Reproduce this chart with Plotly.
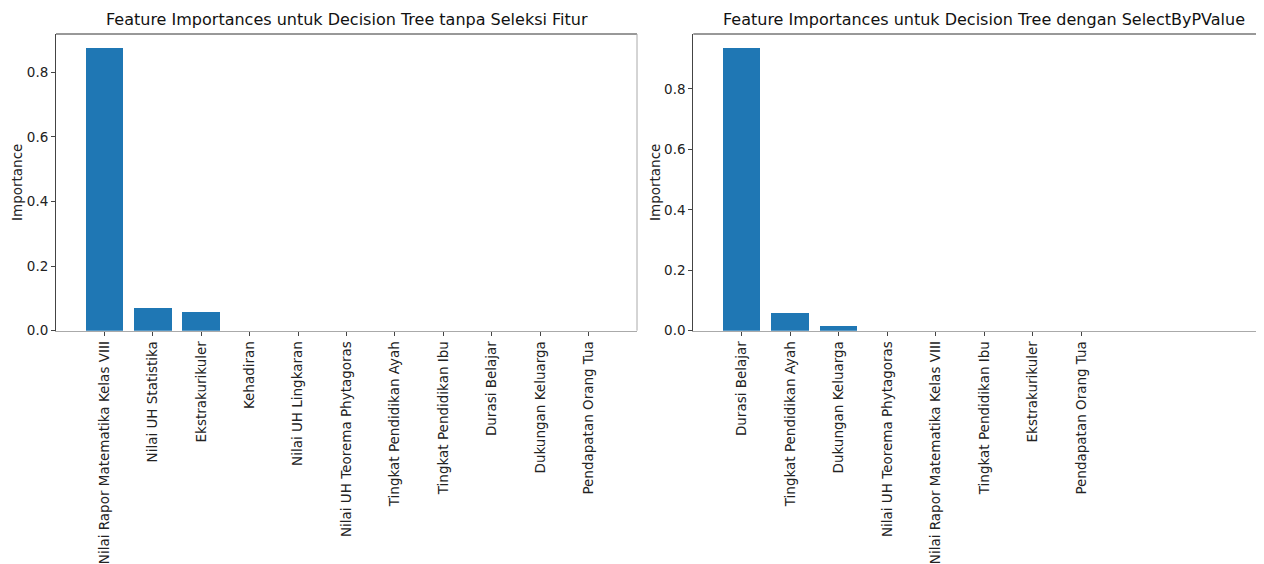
import plotly.graph_objects as go

# page body has an 8px default margin, so the figure is drawn 8px smaller and offset
OFF = 8
W, H = 1264 - OFF, 564 - OFF

# ---- data ----
left_features = [
    "Nilai Rapor Matematika Kelas VIII",
    "Nilai UH Statistika",
    "Ekstrakurikuler",
    "Kehadiran",
    "Nilai UH Lingkaran",
    "Nilai UH Teorema Phytagoras",
    "Tingkat Pendidikan Ayah",
    "Tingkat Pendidikan Ibu",
    "Durasi Belajar",
    "Dukungan Keluarga",
    "Pendapatan Orang Tua",
]
left_importance = [0.874, 0.069, 0.057, 0.0, 0.0, 0.0, 0.0, 0.0, 0.0, 0.0, 0.0]

right_features = [
    "Durasi Belajar",
    "Tingkat Pendidikan Ayah",
    "Dukungan Keluarga",
    "Nilai UH Teorema Phytagoras",
    "Nilai Rapor Matematika Kelas VIII",
    "Tingkat Pendidikan Ibu",
    "Ekstrakurikuler",
    "Pendapatan Orang Tua",
]
right_importance = [0.935, 0.058, 0.014, 0.0, 0.0, 0.0, 0.0, 0.0]

left_title = "Feature Importances untuk Decision Tree tanpa Seleksi Fitur"
right_title = "Feature Importances untuk Decision Tree dengan SelectByPValue"
y_label = "Importance"
y_ticks = [0.0, 0.2, 0.4, 0.6, 0.8]

# ---- layout geometry (pixels, in screenshot coordinates) ----
FONT = "DejaVu Sans"
BAR = "#1f77b4"
top_px, bot_px = 34 - OFF, 330.7 - OFF
L0, L1 = 56 - OFF, 637 - OFF
R0, R1 = 693.3 - OFF, W
yd = [1 - bot_px / H, 1 - top_px / H]

fig = go.Figure()
fig.add_trace(go.Bar(x=left_features, y=left_importance, marker=dict(color=BAR, line=dict(width=0)),
                     width=0.78, xaxis="x", yaxis="y", showlegend=False))
fig.add_trace(go.Bar(x=right_features, y=right_importance, marker=dict(color=BAR, line=dict(width=0)),
                     width=0.78, xaxis="x2", yaxis="y2", showlegend=False))

unit_r = 48.5
r_end = (R1 - R0) / unit_r - 1.0

xcommon = dict(type="category", tickangle=-90, ticks="outside", ticklen=4, tickcolor="#444",
               showgrid=False, zeroline=False, showline=True, linecolor="#aaa", linewidth=1,
               tickfont=dict(family=FONT, size=13.5, color="#222"), automargin=False)
ycommon = dict(ticks="outside", ticklen=4, tickcolor="#444", tickvals=y_ticks, tickformat=".1f",
               showgrid=False, zeroline=False, showline=True, linecolor="#444", linewidth=1,
               tickfont=dict(family=FONT, size=13.5, color="#222"), automargin=False)

fig.update_layout(
    width=W, height=H,
    margin=dict(l=0, r=0, t=0, b=0),
    paper_bgcolor="white", plot_bgcolor="white",
    bargap=0,
    xaxis=dict(domain=[L0 / W, L1 / W], range=[-1.0, 11.0], anchor="y", **xcommon),
    yaxis=dict(domain=yd, range=[0, 0.918], anchor="x", **ycommon),
    xaxis2=dict(domain=[R0 / W, 1.0], range=[-1.0, r_end], anchor="y2", **xcommon),
    yaxis2=dict(domain=yd, range=[0, 0.982], anchor="x2", **ycommon),
)

# top / right spines
fig.add_shape(type="line", xref="x domain", yref="y domain", x0=0, x1=1, y0=1, y1=1,
              line=dict(color="#333", width=1))
fig.add_shape(type="line", xref="x domain", yref="y domain", x0=1, x1=1, y0=0, y1=1,
              line=dict(color="#aaa", width=1))
fig.add_shape(type="line", xref="x2 domain", yref="y2 domain", x0=0, x1=1, y0=1, y1=1,
              line=dict(color="#333", width=1))

# titles
title_y = 1 - (20 - OFF) / H
fig.add_annotation(text=left_title, x=(L0 + L1) / 2 / W, y=title_y, xref="paper", yref="paper",
                   showarrow=False, xanchor="center", yanchor="middle",
                   font=dict(family=FONT, size=16, color="#111"))
fig.add_annotation(text=right_title, x=(R0 + 290.5) / W, y=title_y, xref="paper", yref="paper",
                   showarrow=False, xanchor="center", yanchor="middle",
                   font=dict(family=FONT, size=16, color="#111"))
# y labels
for xpx in (17, 655):
    fig.add_annotation(text=y_label, x=(xpx - OFF) / W, y=1 - (183 - OFF) / H, xref="paper", yref="paper",
                       showarrow=False, textangle=-90, xanchor="center", yanchor="middle",
                       font=dict(family=FONT, size=13.5, color="#222"))

fig.write_html("out.html")
